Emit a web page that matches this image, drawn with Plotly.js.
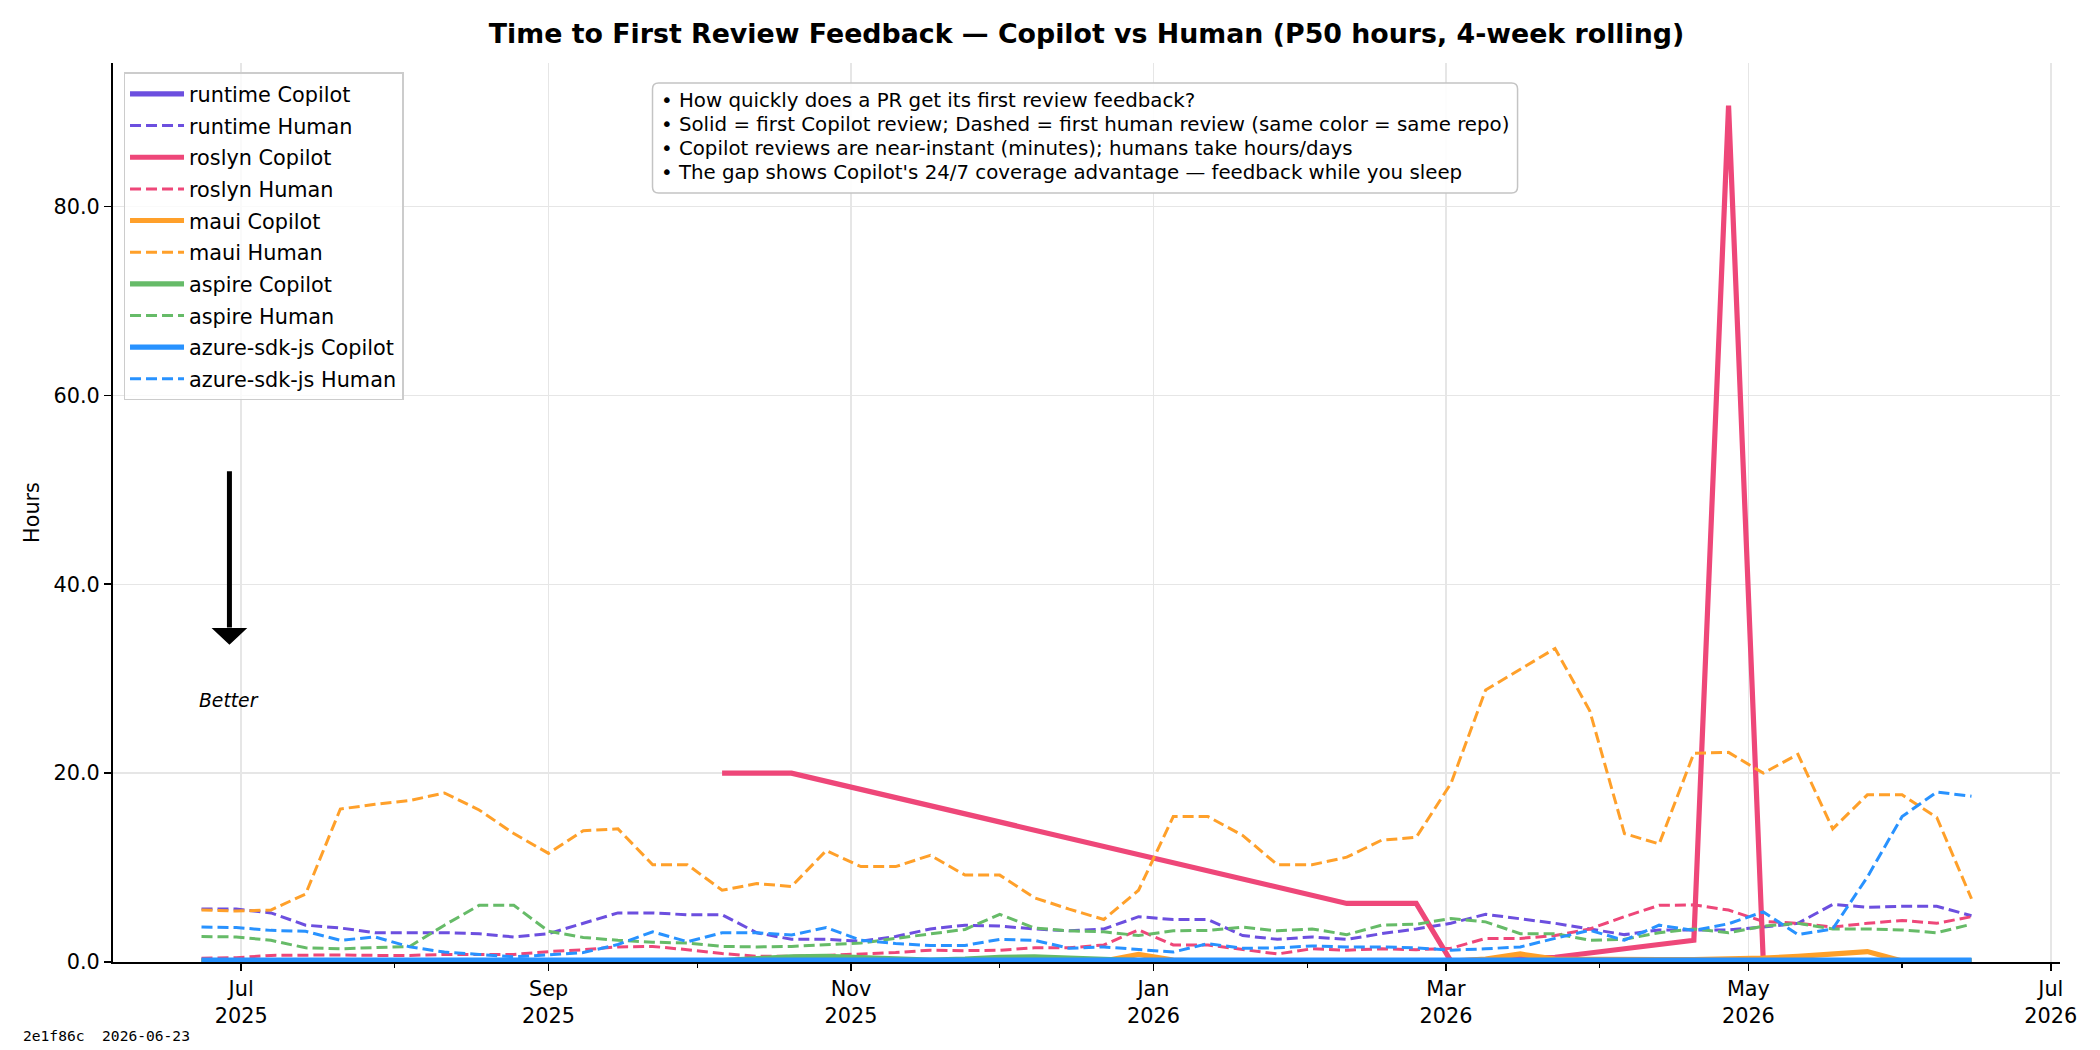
<!DOCTYPE html>
<html>
<head>
<meta charset="utf-8">
<script src="https://cdn.plot.ly/plotly-3.0.1.min.js"></script>
<style>
  html, body { margin: 0; padding: 0; background: #ffffff; }
  #chart { width: 2100px; height: 1050px; }
</style>
</head>
<body>
<div id="chart"></div>
<script>
// ---------- DATA ----------
const weeks = [
  '2025-06-23','2025-06-30','2025-07-07','2025-07-14','2025-07-21','2025-07-28',
  '2025-08-04','2025-08-11','2025-08-18','2025-08-25','2025-09-01','2025-09-08',
  '2025-09-15','2025-09-22','2025-09-29','2025-10-06','2025-10-13','2025-10-20',
  '2025-10-27','2025-11-03','2025-11-10','2025-11-17','2025-11-24','2025-12-01',
  '2025-12-08','2025-12-15','2025-12-22','2025-12-29','2026-01-05','2026-01-12',
  '2026-01-19','2026-01-26','2026-02-02','2026-02-09','2026-02-16','2026-02-23',
  '2026-03-02','2026-03-09','2026-03-16','2026-03-23','2026-03-30','2026-04-06',
  '2026-04-13','2026-04-20','2026-04-27','2026-05-04','2026-05-11','2026-05-18',
  '2026-05-25','2026-06-01','2026-06-08','2026-06-15'
];

const runtimeCopilot = [
  0.1,0.1,0.1,0.1,0.1,0.1,0.1,0.1,0.1,0.1,0.1,0.1,0.1,0.1,0.1,0.1,0.1,0.1,
  0.1,0.1,0.1,0.1,0.1,0.1,0.1,0.1,0.1,0.1,0.1,0.1,0.1,0.1,0.1,0.1,0.1,0.1,
  0.1,0.1,0.1,0.1,0.1,0.1,0.1,0.1,0.1,0.1,0.1,0.1,0.1,0.1,0.1,0.1
];
const runtimeHuman = [
  5.6,5.6,5.2,3.9,3.6,3.1,3.1,3.1,3.0,2.65,3.0,4.1,5.2,5.2,5.0,5.0,3.1,2.4,
  2.4,2.2,2.7,3.5,3.9,3.8,3.5,3.3,3.5,4.8,4.5,4.5,2.8,2.4,2.65,2.4,3.0,3.5,
  4.1,5.05,4.6,4.1,3.5,2.9,3.4,3.4,3.4,3.7,4.1,6.1,5.8,5.9,5.9,4.9
];
const roslynCopilot = [
  null,null,null,null,null,null,null,null,null,null,null,null,null,null,null,20.0,20.0,20.0,
  null,null,null,null,null,null,null,null,null,null,null,null,null,null,null,6.2,6.2,6.2,
  0.1,null,null,0.5,null,null,null,2.3,90.7,0.1,null,null,null,null,null,null
];
const roslynHuman = [
  0.4,0.45,0.7,0.75,0.75,0.7,0.7,0.8,0.8,0.8,1.1,1.3,1.6,1.65,1.3,0.9,0.6,0.6,
  0.7,0.85,1.0,1.25,1.2,1.25,1.5,1.5,1.8,3.4,1.8,1.8,1.3,0.85,1.4,1.25,1.4,1.3,
  1.45,2.5,2.5,2.8,3.5,4.8,6.0,6.05,5.5,4.3,4.1,3.7,4.1,4.4,4.1,4.8
];
const mauiCopilot = [
  0.1,0.1,0.1,0.1,0.1,0.1,0.1,0.1,0.1,0.1,0.1,0.1,0.1,0.1,0.1,0.1,0.1,0.1,
  0.1,0.1,0.1,0.1,0.1,0.1,0.1,0.1,0.1,0.8,0.2,0.1,0.1,0.1,0.1,0.1,0.1,0.1,
  0.1,0.3,0.85,0.3,0.25,0.25,0.25,0.25,0.3,0.4,0.6,0.8,1.1,0.1,0.1,0.1
];
const mauiHuman = [
  5.5,5.4,5.5,7.2,16.2,16.7,17.1,17.9,16.1,13.6,11.5,13.9,14.1,10.3,10.3,7.6,8.3,8.0,
  11.8,10.1,10.1,11.3,9.2,9.2,6.8,5.6,4.5,7.6,15.4,15.4,13.4,10.3,10.3,11.1,12.9,13.2,
  18.9,28.8,31.0,33.2,26.6,13.6,12.5,22.1,22.2,20.0,22.0,14.1,17.7,17.7,15.3,6.7
];
const aspireCopilot = [
  0.1,0.1,0.1,0.1,0.1,0.1,0.1,0.1,0.1,0.1,0.1,0.1,0.1,0.1,0.1,0.15,0.35,0.55,
  0.6,0.5,0.3,0.2,0.3,0.5,0.55,0.4,0.2,0.15,0.15,0.15,0.15,0.15,0.15,0.15,0.15,0.15,
  0.15,0.15,0.15,0.15,0.15,0.15,0.15,0.15,0.15,0.15,0.15,0.15,0.15,0.15,0.15,0.15
];
const aspireHuman = [
  2.7,2.65,2.3,1.5,1.4,1.5,1.65,3.9,6.0,6.0,3.25,2.6,2.3,2.1,2.0,1.65,1.6,1.65,
  1.8,2.0,2.5,3.0,3.45,5.05,3.6,3.3,3.2,2.8,3.3,3.35,3.7,3.3,3.5,2.9,3.9,4.0,
  4.6,4.25,3.0,3.0,2.3,2.4,3.1,3.5,3.1,3.8,4.1,3.5,3.5,3.4,3.1,4.0
];
const azureCopilot = [
  0.2,0.2,0.2,0.2,0.2,0.2,0.2,0.2,0.2,0.2,0.2,0.2,0.2,0.2,0.2,0.2,0.2,0.2,
  0.2,0.2,0.2,0.2,0.2,0.2,0.2,0.2,0.2,0.2,0.2,0.2,0.2,0.2,0.2,0.2,0.2,0.2,
  0.2,0.2,0.2,0.2,0.2,0.2,0.2,0.2,0.2,0.2,0.2,0.2,0.2,0.2,0.2,0.2
];
const azureHuman = [
  3.7,3.65,3.35,3.25,2.3,2.65,1.6,1.05,0.8,0.55,0.75,1.0,1.85,3.2,2.15,3.1,3.1,2.85,
  3.65,2.3,1.95,1.75,1.75,2.4,2.3,1.45,1.6,1.3,1.05,1.95,1.45,1.5,1.7,1.6,1.6,1.5,
  1.25,1.4,1.6,2.5,3.35,2.3,3.9,3.35,4.05,5.3,2.9,3.5,9.0,15.4,18.0,17.55
];

const repos = ['runtime','roslyn','maui','aspire','azure-sdk-js'];
const repoColors = ['#6C4FDF','#EE4779','#FFA02A','#66BB68','#2892FF'];
const copilotSeries = [runtimeCopilot, roslynCopilot, mauiCopilot, aspireCopilot, azureCopilot];
const humanSeries = [runtimeHuman, roslynHuman, mauiHuman, aspireHuman, azureHuman];

const majorTickVals = ['2025-07-01','2025-09-01','2025-11-01','2026-01-01','2026-03-01','2026-05-01','2026-07-01'];
const majorTickText = ['Jul<br>2025','Sep<br>2025','Nov<br>2025','Jan<br>2026','Mar<br>2026','May<br>2026','Jul<br>2026'];
const minorTickVals = ['2025-08-01','2025-10-01','2025-12-01','2026-02-01','2026-04-01','2026-06-01'];
const yTickVals = [0, 20, 40, 60, 80];

const chartTitle = 'Time to First Review Feedback — Copilot vs Human (P50 hours, 4-week rolling)';
const noteLines = [
  '• How quickly does a PR get its first review feedback?',
  '• Solid = first Copilot review; Dashed = first human review (same color = same repo)',
  '• Copilot reviews are near-instant (minutes); humans take hours/days',
  "• The gap shows Copilot's 24/7 coverage advantage — feedback while you sleep"
];
const footerText = '2e1f86c  2026-06-23';

// ---------- TRACES ----------
const traces = [];
repos.forEach((repo, k) => {
  traces.push({
    type: 'scatter', mode: 'lines', name: repo + ' Copilot', legendgroup: repo + 'c',
    x: weeks, y: copilotSeries[k], connectgaps: true,
    line: {color: repoColors[k], width: 5.2}
  });
  traces.push({
    type: 'scatter', mode: 'lines', name: repo + ' Human', legendgroup: repo + 'h',
    x: weeks, y: humanSeries[k], connectgaps: true,
    line: {color: repoColors[k], width: 3, dash: '11px,5px'}
  });
});

const FONT = 'DejaVu Sans, Verdana, sans-serif';

// annotation box geometry (paper coords)
const bx0 = 0.2771, bx1 = 0.7214, by0 = 0.8553, by1 = 0.9777;
const rx = 0.0031, ry = 0.0067;
const boxPath = `M ${bx0+rx} ${by1} L ${bx1-rx} ${by1} Q ${bx1} ${by1} ${bx1} ${by1-ry} ` +
  `L ${bx1} ${by0+ry} Q ${bx1} ${by0} ${bx1-rx} ${by0} L ${bx0+rx} ${by0} ` +
  `Q ${bx0} ${by0} ${bx0} ${by0+ry} L ${bx0} ${by1-ry} Q ${bx0} ${by1} ${bx0+rx} ${by1} Z`;

const noteY = [0.9578, 0.9312, 0.9046, 0.8780];
const noteAnnotations = noteLines.map((t, i) => ({
  xref: 'paper', yref: 'paper', x: 0.2806, y: noteY[i],
  xanchor: 'left', yanchor: 'middle', align: 'left', showarrow: false,
  text: t, font: {family: FONT, size: 19.8, color: '#000000'}
}));

const layout = {
  width: 2100, height: 1050,
  margin: {l: 112.5, r: 40.4, t: 63, b: 88.3, pad: 0},
  paper_bgcolor: '#ffffff', plot_bgcolor: '#ffffff',
  font: {family: FONT, color: '#000000', size: 20.8},
  showlegend: true,
  title: {
    text: chartTitle,
    font: {family: FONT, size: 26.8, weight: 'bold', color: '#000000'},
    x: 0.5, xref: 'paper', xanchor: 'center',
    y: 1 - 34 / 1050, yref: 'container', yanchor: 'middle'
  },
  xaxis: {
    type: 'date',
    range: ['2025-06-05 03:36:00', '2026-07-02 20:24:00'],
    tickmode: 'array', tickvals: majorTickVals, ticktext: majorTickText,
    ticks: 'outside', ticklen: 7.3, tickwidth: 1.7, tickcolor: '#000000',
    tickfont: {family: FONT, size: 20.8, color: '#000000'},
    showline: true, linecolor: '#000000', linewidth: 1.7, mirror: false,
    showgrid: true, gridcolor: '#e6e6e6', gridwidth: 1.5,
    zeroline: false,
    minor: {tickmode: 'array', tickvals: minorTickVals, ticks: 'outside', ticklen: 4.2,
            tickwidth: 1.2, tickcolor: '#000000', showgrid: false}
  },
  yaxis: {
    range: [0, 95.2],
    tickmode: 'array', tickvals: yTickVals, tickformat: '.1f',
    ticks: 'outside', ticklen: 7.3, tickwidth: 1.7, tickcolor: '#000000',
    tickfont: {family: FONT, size: 20.8, color: '#000000'},
    showline: true, linecolor: '#000000', linewidth: 1.7, mirror: false,
    showgrid: true, gridcolor: '#e6e6e6', gridwidth: 1.5,
    zeroline: false,
    title: {text: 'Hours', font: {family: FONT, size: 20.8, color: '#000000'}, standoff: 8}
  },
  legend: {
    x: 0.0054, y: 0.9895, xanchor: 'left', yanchor: 'top',
    bgcolor: 'rgba(255,255,255,0.8)', bordercolor: '#cccccc', borderwidth: 1.5,
    font: {family: FONT, size: 20.8, color: '#000000'},
    traceorder: 'grouped', tracegroupgap: 1.6, itemwidth: 54
  },
  annotations: noteAnnotations.concat([
    {
      xref: 'paper', yref: 'paper', x: 0.0598, y: 0.2912,
      xanchor: 'center', yanchor: 'middle', showarrow: false,
      text: 'Better',
      font: {family: FONT, size: 18.75, color: '#000000', style: 'italic'}
    },
    {
      xref: 'paper', yref: 'paper', x: -0.0475, y: -0.0816,
      xanchor: 'left', yanchor: 'middle', showarrow: false,
      text: footerText,
      font: {family: 'DejaVu Sans Mono, monospace', size: 14.6, color: '#000000'}
    }
  ]),
  shapes: [
    {
      type: 'path', xref: 'paper', yref: 'paper', layer: 'above',
      path: boxPath,
      fillcolor: 'rgba(255,255,255,0.9)', line: {color: '#c4c4c4', width: 1.5}
    },
    {
      type: 'line', xref: 'paper', yref: 'paper',
      x0: 0.0598, x1: 0.0598, y0: 0.546, y1: 0.372,
      line: {color: '#000000', width: 5}
    },
    {
      type: 'path', xref: 'paper', yref: 'paper',
      path: 'M 0.0516 0.3706 L 0.0680 0.3706 L 0.0598 0.3539 Z',
      fillcolor: '#000000', line: {color: '#000000', width: 1.5}
    }
  ]
};

Plotly.newPlot('chart', traces, layout, {displayModeBar: false, staticPlot: true});
</script>
</body>
</html>
